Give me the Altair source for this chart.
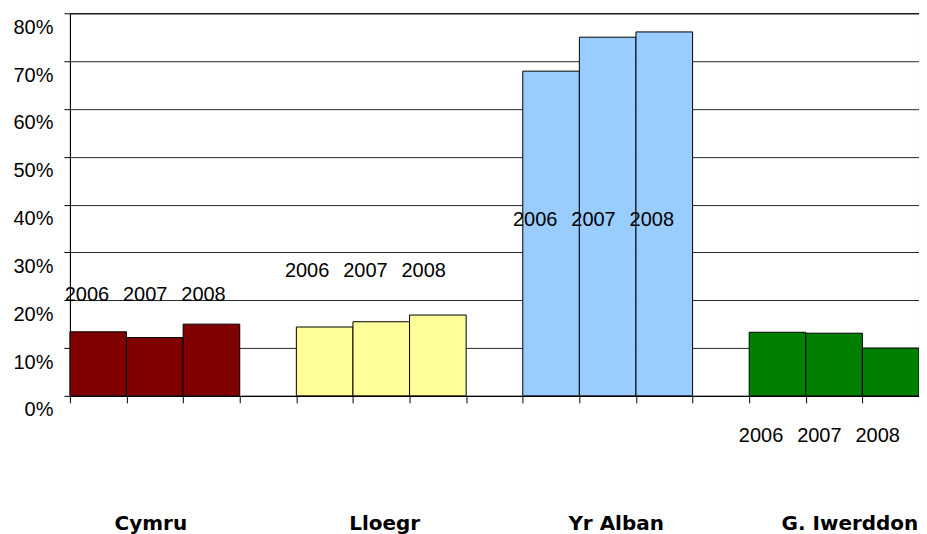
import altair as alt
import pandas as pd

regions = ["Cymru", "Lloegr", "Yr Alban", "G. Iwerddon"]
years = ["2006", "2007", "2008"]
cymru = [13.4, 12.2, 15.0]
lloegr = [14.4, 15.5, 16.9]
yr_alban = [67.9, 75.0, 76.1]
g_iwerddon = [13.3, 13.1, 10.0]
colors = ["#800000", "#FFFF99", "#99CCFF", "#008000"]
y_ticks = [0, 10, 20, 30, 40, 50, 60, 70, 80]

# layout helpers (label placement, in axis units)
year_label_level = [21.0, 26.2, 36.7, -8.4]
year_label_shift = [-0.17, -0.28, -0.25, -0.26]
region_label_shift = [-0.07, 0.06, 0.15, 0.28]
region_label_level = -28.0

series = [cymru, lloegr, yr_alban, g_iwerddon]
rows = []
for g, (reg, vals) in enumerate(zip(regions, series)):
    for i, (yr, v) in enumerate(zip(years, vals)):
        slot = g * 4 + i
        rows.append({"region": reg, "year": yr, "value": v, "x0": slot, "x1": slot + 1,
                     "lx": slot + 0.5 + year_label_shift[g] + (i - 1) * 0.03,
                     "ly": year_label_level[g]})
df = pd.DataFrame(rows)

cat_df = pd.DataFrame({"region": regions,
                       "cx": [g * 4 + 1.5 + region_label_shift[g] for g in range(4)],
                       "cy": [region_label_level] * 4})

xscale = alt.Scale(domain=[0, 15], nice=False, zero=False)
yscale = alt.Scale(domain=[0, 80], nice=False)

bars = alt.Chart(df).mark_rect(stroke="black", strokeWidth=1).encode(
    x=alt.X("x0:Q", scale=xscale,
            axis=alt.Axis(values=list(range(16)), labels=False, title=None, grid=False,
                          domainColor="black", tickColor="black", tickSize=7)),
    x2="x1:Q",
    y=alt.Y("value:Q", scale=yscale,
            axis=alt.Axis(values=y_ticks, title=None, grid=True, gridColor="black",
                          gridOpacity=0.85, domainColor="black", tickColor="black", tickSize=6,
                          labelExpr="datum.value + '%'", labelFontSize=20,
                          labelFont="Liberation Sans", labelColor="black",
                          labelPadding=11, labelOffset=14)),
    y2=alt.datum(0),
    color=alt.Color("region:N", scale=alt.Scale(domain=regions, range=colors), legend=None),
)

year_labels = alt.Chart(df).mark_text(fontSize=20, font="Liberation Sans", color="black",
                                      baseline="middle", align="center").encode(
    x=alt.X("lx:Q", scale=xscale), y=alt.Y("ly:Q", scale=yscale), text="year:N")

cat_labels = alt.Chart(cat_df).mark_text(fontSize=20, font="DejaVu Sans", fontWeight="bold",
                                         color="black", baseline="alphabetic", align="center").encode(
    x=alt.X("cx:Q", scale=xscale), y=alt.Y("cy:Q", scale=yscale), text="region:N")

chart = alt.layer(bars, year_labels, cat_labels).properties(
    width=850, height=383,
    autosize=alt.AutoSizeParams(type="none"),
    padding={"left": 62, "top": 5, "right": 0, "bottom": 142},
    background="white",
).configure_view(stroke="black", strokeWidth=1)

chart.save("out.html", embed_options={"renderer": "svg", "actions": False})
